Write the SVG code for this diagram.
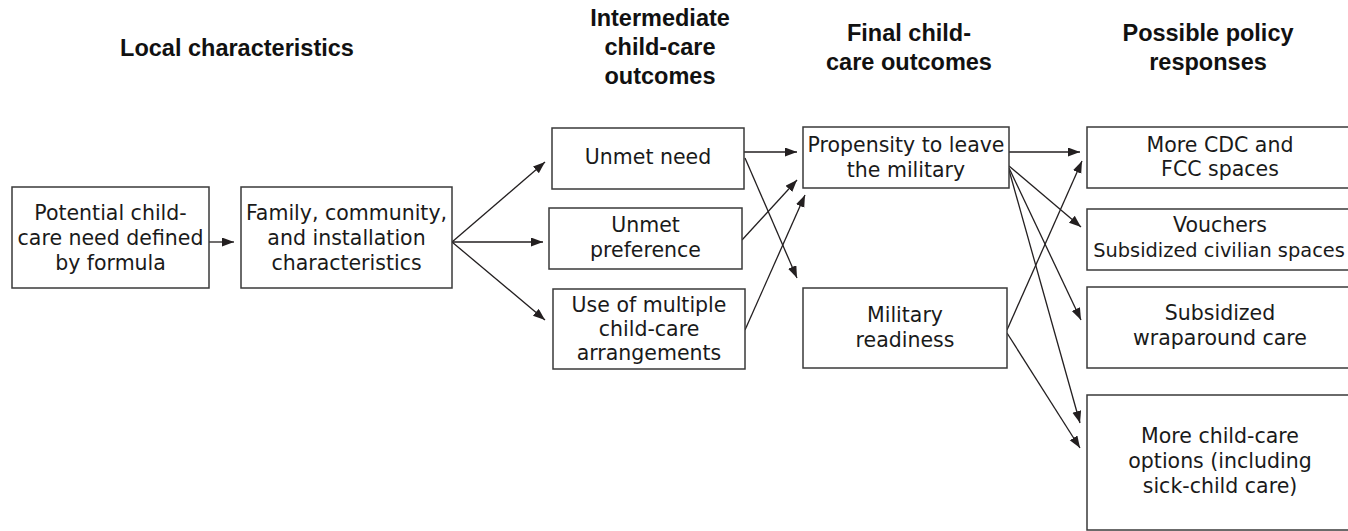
<svg xmlns="http://www.w3.org/2000/svg" width="1348" height="531" viewBox="0 0 1348 531">
<style>
.box{fill:#fff;stroke:#3a3a3a;stroke-width:1.5}
.t{font-family:"DejaVu Sans",sans-serif;font-size:20.5px;fill:#1a1a1a;text-anchor:middle}
.h{font-family:"Liberation Sans",Arial,sans-serif;font-size:23.5px;font-weight:bold;fill:#111;text-anchor:middle}
.c{fill:none;stroke:#231f20;stroke-width:1.3}
</style>
<defs>
<marker id="ah" markerUnits="userSpaceOnUse" markerWidth="13" markerHeight="10" refX="12" refY="4.5" orient="auto">
<path d="M0,0 L12,4.5 L0,9 z" fill="#231f20"/>
</marker>
</defs>
<rect width="1348" height="531" fill="#fff"/>
<g id="headers">
<text class="h" x="237" y="56">Local characteristics</text>
<text class="h" x="660" y="26">Intermediate</text>
<text class="h" x="660" y="55">child-care</text>
<text class="h" x="660" y="84">outcomes</text>
<text class="h" x="909" y="41">Final child-</text>
<text class="h" x="909" y="70">care outcomes</text>
<text class="h" x="1208" y="41">Possible policy</text>
<text class="h" x="1208" y="70">responses</text>
</g>
<g id="connectors" class="c">
<line class="c" x1="209" y1="242" x2="234" y2="242" marker-end="url(#ah)"/>
<line class="c" x1="452" y1="242" x2="545" y2="162" marker-end="url(#ah)"/>
<line class="c" x1="452" y1="242" x2="543" y2="242" marker-end="url(#ah)"/>
<line class="c" x1="452" y1="242" x2="545" y2="320" marker-end="url(#ah)"/>
<line class="c" x1="744" y1="152" x2="797" y2="152" marker-end="url(#ah)"/>
<line class="c" x1="745" y1="158" x2="797" y2="278" marker-end="url(#ah)"/>
<line class="c" x1="742" y1="240" x2="797" y2="180" marker-end="url(#ah)"/>
<line class="c" x1="745" y1="330" x2="805" y2="195" marker-end="url(#ah)"/>
<line class="c" x1="1009" y1="152" x2="1080" y2="152" marker-end="url(#ah)"/>
<line class="c" x1="1009" y1="166" x2="1081" y2="227" marker-end="url(#ah)"/>
<line class="c" x1="1009" y1="168" x2="1081" y2="320" marker-end="url(#ah)"/>
<line class="c" x1="1009" y1="170" x2="1080" y2="423" marker-end="url(#ah)"/>
<line class="c" x1="1007" y1="330" x2="1082" y2="161" marker-end="url(#ah)"/>
<line class="c" x1="1007" y1="333" x2="1080" y2="448" marker-end="url(#ah)"/>
</g>
<g id="n-potential">
<rect class="box" x="12" y="187" width="197" height="101"/>
<text class="t" x="110.5" y="220">Potential child-</text>
<text class="t" x="110.5" y="245">care need defined</text>
<text class="t" x="110.5" y="270">by formula</text>
</g>
<g id="n-family">
<rect class="box" x="241" y="187" width="211" height="101"/>
<text class="t" x="346.5" y="220">Family, community,</text>
<text class="t" x="346.5" y="245">and installation</text>
<text class="t" x="346.5" y="270">characteristics</text>
</g>
<g id="n-unmet-need">
<rect class="box" x="552" y="128" width="192" height="61"/>
<text class="t" x="648" y="164">Unmet need</text>
</g>
<g id="n-unmet-pref">
<rect class="box" x="549" y="208" width="193" height="61"/>
<text class="t" x="645.5" y="232">Unmet</text>
<text class="t" x="645.5" y="257">preference</text>
</g>
<g id="n-multiple">
<rect class="box" x="553" y="289" width="192" height="80"/>
<text class="t" x="649" y="312">Use of multiple</text>
<text class="t" x="649" y="336">child-care</text>
<text class="t" x="649" y="360">arrangements</text>
</g>
<g id="n-propensity">
<rect class="box" x="803" y="127" width="206" height="61"/>
<text class="t" x="906" y="152">Propensity to leave</text>
<text class="t" x="906" y="177">the military</text>
</g>
<g id="n-readiness">
<rect class="box" x="803" y="288" width="204" height="80"/>
<text class="t" x="905" y="322">Military</text>
<text class="t" x="905" y="347">readiness</text>
</g>
<g id="n-cdc">
<rect class="box" x="1087" y="127" width="266" height="61"/>
<text class="t" x="1220" y="152">More CDC and</text>
<text class="t" x="1220" y="176">FCC spaces</text>
</g>
<g id="n-vouchers">
<rect class="box" x="1087" y="209" width="266" height="61"/>
<text class="t" x="1220" y="232">Vouchers</text>
<text class="t" x="1219" y="257" style="font-size:19.4px">Subsidized civilian spaces</text>
</g>
<g id="n-wrap">
<rect class="box" x="1087" y="287" width="266" height="81"/>
<text class="t" x="1220" y="320">Subsidized</text>
<text class="t" x="1220" y="345">wraparound care</text>
</g>
<g id="n-options">
<rect class="box" x="1087" y="395" width="266" height="135"/>
<text class="t" x="1220" y="443">More child-care</text>
<text class="t" x="1220" y="468">options (including</text>
<text class="t" x="1220" y="493">sick-child care)</text>
</g>
</svg>
